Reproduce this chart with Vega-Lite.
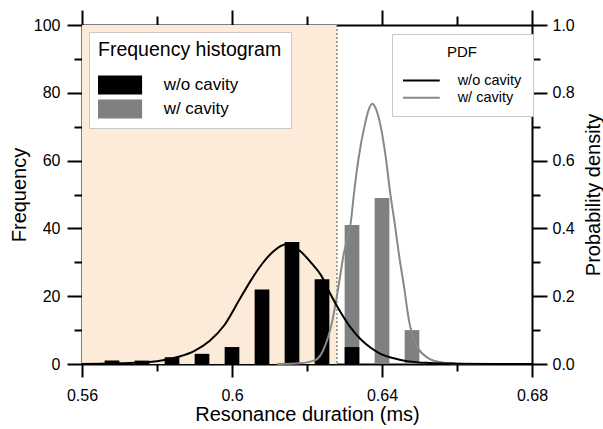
{
  "$schema": "https://vega.github.io/schema/vega-lite/v6.json",
  "width": 450,
  "height": 339,
  "autosize": {"type": "none"},
  "padding": {"left": 82, "top": 25, "right": 71, "bottom": 65},
  "config": {
    "font": "Liberation Sans",
    "view": {"stroke": null},
    "axis": {
      "labelFontSize": 16,
      "titleFontSize": 20,
      "titleFontWeight": "normal",
      "grid": false
    },
    "legend": {
      "titleFontWeight": "normal",
      "titleLimit": 400,
      "labelLimit": 300
    }
  },
  "datasets": {
    "region": [{"start": 0.56, "end": 0.628}],
    "bars": [
      {"x": 0.632, "count": 41, "hist": "w/ cavity"},
      {"x": 0.640, "count": 49, "hist": "w/ cavity"},
      {"x": 0.648, "count": 10, "hist": "w/ cavity"},
      {"x": 0.568, "count": 1, "hist": "w/o cavity"},
      {"x": 0.576, "count": 1, "hist": "w/o cavity"},
      {"x": 0.584, "count": 2, "hist": "w/o cavity"},
      {"x": 0.592, "count": 3, "hist": "w/o cavity"},
      {"x": 0.600, "count": 5, "hist": "w/o cavity"},
      {"x": 0.608, "count": 22, "hist": "w/o cavity"},
      {"x": 0.616, "count": 36, "hist": "w/o cavity"},
      {"x": 0.624, "count": 25, "hist": "w/o cavity"},
      {"x": 0.632, "count": 5, "hist": "w/o cavity"}
    ],
    "pdf": [
      {"x": 0.612, "density": 0.000, "pdf": "w/ cavity"},
      {"x": 0.618, "density": 0.002, "pdf": "w/ cavity"},
      {"x": 0.6223, "density": 0.012, "pdf": "w/ cavity"},
      {"x": 0.6245, "density": 0.045, "pdf": "w/ cavity"},
      {"x": 0.6267, "density": 0.125, "pdf": "w/ cavity"},
      {"x": 0.6282, "density": 0.215, "pdf": "w/ cavity"},
      {"x": 0.6298, "density": 0.325, "pdf": "w/ cavity"},
      {"x": 0.6317, "density": 0.420, "pdf": "w/ cavity"},
      {"x": 0.6326, "density": 0.510, "pdf": "w/ cavity"},
      {"x": 0.6338, "density": 0.610, "pdf": "w/ cavity"},
      {"x": 0.6356, "density": 0.715, "pdf": "w/ cavity"},
      {"x": 0.6365, "density": 0.752, "pdf": "w/ cavity"},
      {"x": 0.6374, "density": 0.768, "pdf": "w/ cavity"},
      {"x": 0.6383, "density": 0.755, "pdf": "w/ cavity"},
      {"x": 0.6395, "density": 0.709, "pdf": "w/ cavity"},
      {"x": 0.641, "density": 0.610, "pdf": "w/ cavity"},
      {"x": 0.6421, "density": 0.512, "pdf": "w/ cavity"},
      {"x": 0.6434, "density": 0.414, "pdf": "w/ cavity"},
      {"x": 0.6445, "density": 0.325, "pdf": "w/ cavity"},
      {"x": 0.6459, "density": 0.226, "pdf": "w/ cavity"},
      {"x": 0.6472, "density": 0.128, "pdf": "w/ cavity"},
      {"x": 0.649, "density": 0.059, "pdf": "w/ cavity"},
      {"x": 0.6521, "density": 0.019, "pdf": "w/ cavity"},
      {"x": 0.6557, "density": 0.005, "pdf": "w/ cavity"},
      {"x": 0.660, "density": 0.001, "pdf": "w/ cavity"},
      {"x": 0.665, "density": 0.000, "pdf": "w/ cavity"},
      {"x": 0.680, "density": 0.000, "pdf": "w/ cavity"},
      {"x": 0.560, "density": 0.000, "pdf": "w/o cavity"},
      {"x": 0.565, "density": 0.001, "pdf": "w/o cavity"},
      {"x": 0.570, "density": 0.002, "pdf": "w/o cavity"},
      {"x": 0.574, "density": 0.004, "pdf": "w/o cavity"},
      {"x": 0.578, "density": 0.006, "pdf": "w/o cavity"},
      {"x": 0.582, "density": 0.012, "pdf": "w/o cavity"},
      {"x": 0.586, "density": 0.022, "pdf": "w/o cavity"},
      {"x": 0.590, "density": 0.039, "pdf": "w/o cavity"},
      {"x": 0.594, "density": 0.068, "pdf": "w/o cavity"},
      {"x": 0.598, "density": 0.115, "pdf": "w/o cavity"},
      {"x": 0.602, "density": 0.190, "pdf": "w/o cavity"},
      {"x": 0.605, "density": 0.246, "pdf": "w/o cavity"},
      {"x": 0.608, "density": 0.295, "pdf": "w/o cavity"},
      {"x": 0.611, "density": 0.332, "pdf": "w/o cavity"},
      {"x": 0.6145, "density": 0.353, "pdf": "w/o cavity"},
      {"x": 0.618, "density": 0.335, "pdf": "w/o cavity"},
      {"x": 0.621, "density": 0.300, "pdf": "w/o cavity"},
      {"x": 0.624, "density": 0.257, "pdf": "w/o cavity"},
      {"x": 0.6263, "density": 0.205, "pdf": "w/o cavity"},
      {"x": 0.629, "density": 0.152, "pdf": "w/o cavity"},
      {"x": 0.6316, "density": 0.108, "pdf": "w/o cavity"},
      {"x": 0.6343, "density": 0.073, "pdf": "w/o cavity"},
      {"x": 0.637, "density": 0.048, "pdf": "w/o cavity"},
      {"x": 0.6396, "density": 0.030, "pdf": "w/o cavity"},
      {"x": 0.6423, "density": 0.019, "pdf": "w/o cavity"},
      {"x": 0.645, "density": 0.012, "pdf": "w/o cavity"},
      {"x": 0.6477, "density": 0.007, "pdf": "w/o cavity"},
      {"x": 0.653, "density": 0.003, "pdf": "w/o cavity"},
      {"x": 0.660, "density": 0.001, "pdf": "w/o cavity"},
      {"x": 0.670, "density": 0.000, "pdf": "w/o cavity"},
      {"x": 0.680, "density": 0.000, "pdf": "w/o cavity"}
    ]
  },
  "layer": [
    {
      "data": {"name": "region"},
      "mark": {"type": "rect", "color": "#fdebd9"},
      "encoding": {
        "x": {
          "field": "start",
          "type": "quantitative",
          "scale": {"domain": [0.56, 0.68], "nice": false, "zero": false, "padding": 0},
          "axis": {
            "orient": "top",
            "values": [0.56, 0.6, 0.64, 0.68],
            "labels": false,
            "title": null,
            "domainColor": "#000000",
            "domainWidth": 2,
            "tickColor": "#000000",
            "tickWidth": 2,
            "tickSize": 15
          }
        },
        "x2": {"field": "end"}
      }
    },
    {
      "data": {"name": "region"},
      "mark": {"type": "rule", "color": "#555555", "strokeDash": [2, 2], "strokeWidth": 1},
      "encoding": {
        "x": {
          "field": "end",
          "type": "quantitative",
          "scale": {"domain": [0.56, 0.68], "nice": false, "zero": false, "padding": 0},
          "axis": null
        }
      }
    },
    {
      "data": {"name": "bars"},
      "mark": {"type": "bar", "width": 14.7},
      "encoding": {
        "x": {
          "field": "x",
          "type": "quantitative",
          "scale": {"domain": [0.56, 0.68], "nice": false, "zero": false, "padding": 0},
          "axis": null
        },
        "y": {
          "field": "count",
          "type": "quantitative",
          "stack": null,
          "scale": {"domain": [0, 100], "nice": false},
          "axis": null
        },
        "fill": {
          "field": "hist",
          "type": "nominal",
          "scale": {"domain": ["w/o cavity", "w/ cavity"], "range": ["#000000", "#808080"]},
          "legend": {
            "orient": "none",
            "legendX": 7,
            "legendY": 7,
            "title": "Frequency histogram",
            "titleColor": "#000000",
            "labelColor": "#000000",
            "titleFontSize": 19.5,
            "labelFontSize": 17,
            "symbolType": "M-2.32,-1H2.32V1H-2.32Z",
            "symbolSize": 361,
            "symbolStrokeWidth": 0,
            "symbolOffset": 12.55,
            "rowPadding": 5,
            "labelOffset": 34.1,
            "padding": 9,
            "fillColor": "#ffffff",
            "strokeColor": "#c8c8c8",
            "titlePadding": 15
          }
        }
      }
    },
    {
      "data": {"name": "pdf"},
      "mark": {"type": "line", "strokeWidth": 2, "interpolate": "monotone"},
      "encoding": {
        "x": {
          "field": "x",
          "type": "quantitative",
          "scale": {"domain": [0.56, 0.68], "nice": false, "zero": false, "padding": 0},
          "axis": null
        },
        "y": {
          "field": "density",
          "type": "quantitative",
          "scale": {"domain": [0, 1], "nice": false},
          "axis": null
        },
        "stroke": {
          "field": "pdf",
          "type": "nominal",
          "sort": ["w/o cavity", "w/ cavity"],
          "scale": {"range": ["#000000", "#888888"]},
          "legend": {
            "orient": "none",
            "legendX": 310,
            "legendY": 9,
            "title": "PDF",
            "titleColor": "#000000",
            "labelColor": "#000000",
            "titleFontSize": 15,
            "titleAnchor": "middle",
            "labelFontSize": 14.5,
            "symbolType": "M-2.45,0H2.45",
            "symbolSize": 225,
            "symbolStrokeWidth": 2,
            "symbolOffset": 9.875,
            "rowPadding": 2.3,
            "labelOffset": 27.75,
            "padding": 11,
            "fillColor": "#ffffff",
            "strokeColor": "#c8c8c8",
            "titlePadding": 12
          }
        }
      }
    },
    {
      "data": {"name": "bars"},
      "mark": {"type": "point", "opacity": 0},
      "encoding": {
        "x": {
          "field": "x",
          "type": "quantitative",
          "scale": {"domain": [0.56, 0.68], "nice": false, "zero": false, "padding": 0},
          "axis": {
            "orient": "bottom",
            "values": [0.56, 0.6, 0.64, 0.68],
            "format": "~g",
            "labelFlush": false,
            "title": "Resonance duration (ms)",
            "titleColor": "#000000",
            "labelColor": "#000000",
            "domainColor": "#000000",
            "domainWidth": 2,
            "tickColor": "#000000",
            "tickWidth": 2,
            "tickSize": 13,
            "labelPadding": 10,
            "titlePadding": 1
          }
        },
        "y": {
          "field": "count",
          "type": "quantitative",
          "scale": {"domain": [0, 100], "nice": false},
          "axis": {
            "orient": "left",
            "values": [0, 20, 40, 60, 80, 100],
            "title": "Frequency",
            "titleColor": "#000000",
            "labelColor": "#000000",
            "labelFlush": false,
            "labelPadding": 7,
            "titlePadding": 4,
            "domainColor": "#000000",
            "domainWidth": 2,
            "tickColor": "#000000",
            "tickWidth": 2,
            "tickSize": 15
          }
        }
      }
    },
    {
      "data": {"name": "bars"},
      "mark": {"type": "point", "opacity": 0},
      "encoding": {
        "x": {
          "field": "x",
          "type": "quantitative",
          "scale": {"domain": [0.56, 0.68], "nice": false, "zero": false, "padding": 0},
          "axis": {
            "orient": "bottom",
            "values": [0.58, 0.62, 0.66],
            "labels": false,
            "title": null,
            "domain": false,
            "tickColor": "#000000",
            "tickWidth": 2,
            "tickSize": 7
          }
        },
        "y": {
          "field": "count",
          "type": "quantitative",
          "scale": {"domain": [0, 100], "nice": false},
          "axis": {
            "orient": "left",
            "values": [10, 30, 50, 70, 90],
            "labels": false,
            "title": null,
            "domain": false,
            "tickColor": "#000000",
            "tickWidth": 2,
            "tickSize": 8
          }
        }
      }
    },
    {
      "data": {"name": "pdf"},
      "mark": {"type": "point", "opacity": 0},
      "encoding": {
        "x": {
          "field": "x",
          "type": "quantitative",
          "scale": {"domain": [0.56, 0.68], "nice": false, "zero": false, "padding": 0},
          "axis": {
            "orient": "top",
            "values": [0.58, 0.62, 0.66],
            "labels": false,
            "title": null,
            "domain": false,
            "tickColor": "#000000",
            "tickWidth": 2,
            "tickSize": 9
          }
        },
        "y": {
          "field": "density",
          "type": "quantitative",
          "scale": {"domain": [0, 1], "nice": false},
          "axis": {
            "orient": "right",
            "values": [0, 0.2, 0.4, 0.6, 0.8, 1.0],
            "format": ".1f",
            "title": "Probability density",
            "titleColor": "#000000",
            "labelColor": "#000000",
            "titleAngle": 270,
            "titleBaseline": "top",
            "labelFlush": false,
            "labelPadding": 5,
            "titlePadding": 9,
            "domainColor": "#000000",
            "domainWidth": 2,
            "tickColor": "#000000",
            "tickWidth": 2,
            "tickSize": 15
          }
        }
      }
    },
    {
      "data": {"name": "pdf"},
      "mark": {"type": "point", "opacity": 0},
      "encoding": {
        "x": {
          "field": "x",
          "type": "quantitative",
          "scale": {"domain": [0.56, 0.68], "nice": false, "zero": false, "padding": 0},
          "axis": null
        },
        "y": {
          "field": "density",
          "type": "quantitative",
          "scale": {"domain": [0, 1], "nice": false},
          "axis": {
            "orient": "right",
            "values": [0.1, 0.3, 0.5, 0.7, 0.9],
            "labels": false,
            "title": null,
            "domain": false,
            "tickColor": "#000000",
            "tickWidth": 2,
            "tickSize": 8
          }
        }
      }
    }
  ],
  "resolve": {"scale": {"x": "independent", "y": "independent"}}
}
